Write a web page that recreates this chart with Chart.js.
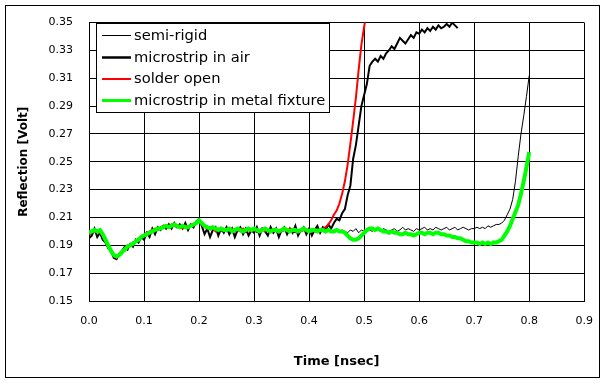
<!DOCTYPE html>
<html>
<head>
<meta charset="utf-8">
<script src="https://cdn.jsdelivr.net/npm/chart.js@4"></script>
<style>
  body { margin: 0; background: #fff; }
  canvas { display: block; }
</style>
</head>
<body>
<canvas id="reflChart" width="607" height="384"></canvas>
<script>
// time axis, nsec (0.005 step)
const times = [
  0.000, 0.005, 0.010, 0.015, 0.020, 0.025, 0.030, 0.035, 0.040, 0.045,
  0.050, 0.055, 0.060, 0.065, 0.070, 0.075, 0.080, 0.085, 0.090, 0.095,
  0.100, 0.105, 0.110, 0.115, 0.120, 0.125, 0.130, 0.135, 0.140, 0.145,
  0.150, 0.155, 0.160, 0.165, 0.170, 0.175, 0.180, 0.185, 0.190, 0.195,
  0.200, 0.205, 0.210, 0.215, 0.220, 0.225, 0.230, 0.235, 0.240, 0.245,
  0.250, 0.255, 0.260, 0.265, 0.270, 0.275, 0.280, 0.285, 0.290, 0.295,
  0.300, 0.305, 0.310, 0.315, 0.320, 0.325, 0.330, 0.335, 0.340, 0.345,
  0.350, 0.355, 0.360, 0.365, 0.370, 0.375, 0.380, 0.385, 0.390, 0.395,
  0.400, 0.405, 0.410, 0.415, 0.420, 0.425, 0.430, 0.435, 0.440, 0.445,
  0.450, 0.455, 0.460, 0.465, 0.470, 0.475, 0.480, 0.485, 0.490, 0.495,
  0.500, 0.505, 0.510, 0.515, 0.520, 0.525, 0.530, 0.535, 0.540, 0.545,
  0.550, 0.555, 0.560, 0.565, 0.570, 0.575, 0.580, 0.585, 0.590, 0.595,
  0.600, 0.605, 0.610, 0.615, 0.620, 0.625, 0.630, 0.635, 0.640, 0.645,
  0.650, 0.655, 0.660, 0.665, 0.670, 0.675, 0.680, 0.685, 0.690, 0.695,
  0.700, 0.705, 0.710, 0.715, 0.720, 0.725, 0.730, 0.735, 0.740, 0.745,
  0.750, 0.755, 0.760, 0.765, 0.770, 0.775, 0.780, 0.785, 0.790, 0.795,
  0.800
];

// reflection, Volt
const semiRigid = [
  0.197, 0.199, 0.201, 0.199, 0.200, 0.197, 0.193, 0.190, 0.186, 0.182,
  0.181, 0.183, 0.186, 0.187, 0.188, 0.190, 0.192, 0.192, 0.194, 0.195,
  0.196, 0.199, 0.198, 0.201, 0.200, 0.202, 0.203, 0.202, 0.204, 0.204,
  0.203, 0.205, 0.203, 0.204, 0.203, 0.202, 0.204, 0.203, 0.205, 0.205,
  0.207, 0.205, 0.203, 0.204, 0.201, 0.202, 0.201, 0.202, 0.200, 0.201,
  0.200, 0.202, 0.199, 0.201, 0.200, 0.202, 0.200, 0.199, 0.201, 0.200,
  0.201, 0.199, 0.201, 0.200, 0.202, 0.200, 0.199, 0.201, 0.200, 0.199,
  0.200, 0.201, 0.199, 0.201, 0.200, 0.199, 0.201, 0.200, 0.201, 0.199,
  0.200, 0.201, 0.200, 0.199, 0.201, 0.200, 0.201, 0.200, 0.201, 0.200,
  0.201, 0.200, 0.201, 0.200, 0.199, 0.201, 0.200, 0.202, 0.199, 0.201,
  0.200, 0.202, 0.201, 0.200, 0.202, 0.201, 0.200, 0.202, 0.201, 0.200,
  0.201, 0.202, 0.200, 0.201, 0.203, 0.201, 0.202, 0.201, 0.200, 0.202,
  0.201, 0.202, 0.203, 0.201, 0.202, 0.201, 0.203, 0.202, 0.201, 0.202,
  0.203, 0.201, 0.202, 0.203, 0.201, 0.202, 0.203, 0.202, 0.201, 0.202,
  0.202, 0.203, 0.202, 0.203, 0.202, 0.204, 0.203, 0.204, 0.205, 0.205,
  0.206, 0.208, 0.212, 0.216, 0.223, 0.236, 0.254, 0.270, 0.283, 0.297,
  0.312
];

const microstripAir = [
  0.195, 0.197, 0.202, 0.196, 0.199, 0.194, 0.192, 0.188, 0.186, 0.181,
  0.180, 0.184, 0.186, 0.189, 0.187, 0.191, 0.189, 0.194, 0.192, 0.196,
  0.194, 0.199, 0.196, 0.202, 0.198, 0.203, 0.201, 0.204, 0.202, 0.205,
  0.202, 0.206, 0.203, 0.205, 0.202, 0.206, 0.201, 0.205, 0.203, 0.207,
  0.209, 0.204, 0.198, 0.202, 0.196, 0.201, 0.203, 0.197, 0.202, 0.199,
  0.203, 0.198, 0.202, 0.196, 0.201, 0.203, 0.198, 0.202, 0.197, 0.201,
  0.199, 0.203, 0.197, 0.202, 0.200, 0.197, 0.203, 0.199, 0.202, 0.196,
  0.201, 0.203, 0.198, 0.202, 0.199, 0.204, 0.197, 0.201, 0.203, 0.198,
  0.202, 0.197, 0.201, 0.204, 0.199, 0.203, 0.201, 0.205, 0.202, 0.206,
  0.209, 0.208, 0.213, 0.216, 0.226, 0.233, 0.252, 0.262, 0.276, 0.290,
  0.298, 0.306, 0.319, 0.322, 0.324, 0.322, 0.326, 0.324, 0.328, 0.330,
  0.333, 0.331, 0.335, 0.339, 0.337, 0.335, 0.338, 0.341, 0.339, 0.343,
  0.342, 0.345, 0.343, 0.346, 0.344, 0.347, 0.345, 0.348, 0.346, 0.347,
  0.349, 0.347, 0.350, 0.348, 0.346
];

const solderOpen = [
  0.198, 0.200, 0.200, 0.201, 0.199, 0.197, 0.193, 0.189, 0.185, 0.183,
  0.181, 0.184, 0.186, 0.188, 0.190, 0.190, 0.192, 0.193, 0.195, 0.196,
  0.197, 0.199, 0.200, 0.201, 0.202, 0.201, 0.203, 0.204, 0.203, 0.204,
  0.205, 0.204, 0.203, 0.204, 0.202, 0.204, 0.203, 0.205, 0.204, 0.206,
  0.208, 0.205, 0.203, 0.202, 0.203, 0.202, 0.200, 0.202, 0.201, 0.202,
  0.200, 0.201, 0.202, 0.200, 0.201, 0.200, 0.202, 0.200, 0.201, 0.200,
  0.201, 0.200, 0.201, 0.202, 0.200, 0.201, 0.200, 0.201, 0.200, 0.201,
  0.200, 0.201, 0.200, 0.202, 0.201, 0.200, 0.201, 0.200, 0.201, 0.200,
  0.201, 0.200, 0.201, 0.200, 0.201, 0.202, 0.203, 0.205, 0.208, 0.212,
  0.215, 0.220, 0.227, 0.236, 0.248, 0.263, 0.279, 0.296, 0.316, 0.334,
  0.347, 0.358
];

const metalFixture = [
  0.199, 0.200, 0.201, 0.200, 0.201, 0.198, 0.194, 0.190, 0.186, 0.183,
  0.182, 0.183, 0.185, 0.187, 0.189, 0.190, 0.191, 0.193, 0.194, 0.196,
  0.197, 0.198, 0.199, 0.200, 0.201, 0.202, 0.202, 0.203, 0.204, 0.203,
  0.204, 0.205, 0.204, 0.203, 0.204, 0.203, 0.203, 0.204, 0.205, 0.206,
  0.208, 0.206, 0.204, 0.203, 0.202, 0.203, 0.202, 0.201, 0.202, 0.201,
  0.201, 0.202, 0.200, 0.201, 0.202, 0.201, 0.200, 0.201, 0.202, 0.201,
  0.202, 0.201, 0.200, 0.201, 0.202, 0.201, 0.200, 0.201, 0.201, 0.200,
  0.201, 0.202, 0.201, 0.200, 0.201, 0.201, 0.200, 0.201, 0.202, 0.201,
  0.200, 0.201, 0.201, 0.200, 0.201, 0.201, 0.200, 0.201, 0.200, 0.200,
  0.201, 0.200, 0.200, 0.199, 0.197, 0.195, 0.194, 0.194, 0.195, 0.197,
  0.199, 0.201, 0.202, 0.202, 0.201, 0.202, 0.201, 0.200, 0.200, 0.199,
  0.200, 0.199, 0.199, 0.198, 0.198, 0.199, 0.198, 0.198, 0.197, 0.198,
  0.199, 0.199, 0.198, 0.199, 0.199, 0.198, 0.199, 0.199, 0.198, 0.198,
  0.197, 0.197, 0.196, 0.196, 0.195, 0.195, 0.194, 0.193, 0.193, 0.192,
  0.192, 0.192, 0.191, 0.192, 0.191, 0.192, 0.191, 0.192, 0.192, 0.193,
  0.194, 0.197, 0.200, 0.204, 0.209, 0.214, 0.219, 0.227, 0.236, 0.246,
  0.257
];

const seriesNames = ["semi-rigid", "microstrip in air", "solder open", "microstrip in metal fixture"];
const seriesColors = ["#000000", "#000000", "#ff0000", "#00ff00"];
const lineWidths = [1, 2, 2, 4];
const legendWidths = [1, 2.5, 2, 3];

const yTicks = [0.15, 0.17, 0.19, 0.21, 0.23, 0.25, 0.27, 0.29, 0.31, 0.33, 0.35];
const xTicks = [0.0, 0.1, 0.2, 0.3, 0.4, 0.5, 0.6, 0.7, 0.8, 0.9];

const toPoints = (vals) => vals.map((v, i) => ({ x: times[i], y: v }));
const allSeries = [semiRigid, microstripAir, solderOpen, metalFixture];

// outer frame and legend box drawn on the canvas
const framePlugin = {
  id: "frame",
  beforeDraw(chart) {
    const c = chart.ctx;
    c.save();
    c.fillStyle = "#fff";
    c.fillRect(0, 0, chart.width, chart.height);
    c.strokeStyle = "#000";
    c.lineWidth = 1;
    c.strokeRect(5.5, 5.5, 594, 372);
    c.restore();
  },
  afterDraw(chart) {
    const c = chart.ctx;
    c.save();
    c.fillStyle = "#fff";
    c.fillRect(96, 23, 233, 89);
    c.strokeStyle = "#000";
    c.lineWidth = 1;
    c.strokeRect(96.5, 23.5, 233, 89);
    const rows = [35, 57, 78.5, 100];
    c.font = "14.7px 'DejaVu Sans'";
    c.textBaseline = "middle";
    seriesNames.forEach((name, i) => {
      c.beginPath();
      c.strokeStyle = seriesColors[i];
      c.lineWidth = legendWidths[i];
      c.moveTo(102, rows[i] + 0.5);
      c.lineTo(131, rows[i] + 0.5);
      c.stroke();
      c.fillStyle = "#000";
      c.fillText(name, 134, rows[i] + 1);
    });
    c.restore();
  }
};

const ctx = document.getElementById("reflChart").getContext("2d");
new Chart(ctx, {
  type: "line",
  data: {
    datasets: allSeries.map((vals, i) => ({
      label: seriesNames[i],
      data: toPoints(vals),
      borderColor: seriesColors[i],
      borderWidth: lineWidths[i],
      pointRadius: 0,
      tension: 0,
      fill: false,
      order: 3 - i
    }))
  },
  options: {
    responsive: false,
    animation: false,
    events: [],
    layout: { padding: { left: 10, right: 19, top: 18, bottom: 10.5 } },
    scales: {
      x: {
        type: "linear",
        min: 0,
        max: 0.9,
        afterFit: (s) => { s.height = 72.5; },
        afterBuildTicks: (s) => { s.ticks = xTicks.map(v => ({ value: v })); },
        grid: { color: "#000", lineWidth: 1, drawTicks: false },
        border: { color: "#000" },
        ticks: {
          padding: 14,
          color: "#000",
          font: { family: "'DejaVu Sans'", size: 11 },
          callback: (v) => v.toFixed(1)
        },
        title: {
          display: true,
          text: "Time [nsec]",
          color: "#000",
          font: { family: "'DejaVu Sans'", size: 13, weight: "bold" }
        }
      },
      y: {
        min: 0.15,
        max: 0.35,
        afterFit: (s) => { s.width = 79; },
        afterBuildTicks: (s) => { s.ticks = yTicks.map(v => ({ value: v })); },
        grid: { color: "#000", lineWidth: 1, drawTicks: false },
        border: { color: "#000" },
        ticks: {
          padding: 16,
          color: "#000",
          font: { family: "'DejaVu Sans'", size: 11 },
          callback: (v) => v.toFixed(2)
        },
        title: {
          display: true,
          text: "Reflection [Volt]",
          color: "#000",
          padding: { top: 7, bottom: 4 },
          font: { family: "'DejaVu Sans'", size: 12, weight: "bold" }
        }
      }
    },
    plugins: {
      legend: { display: false },
      tooltip: { enabled: false }
    }
  },
  plugins: [framePlugin]
});
</script>
</body>
</html>
